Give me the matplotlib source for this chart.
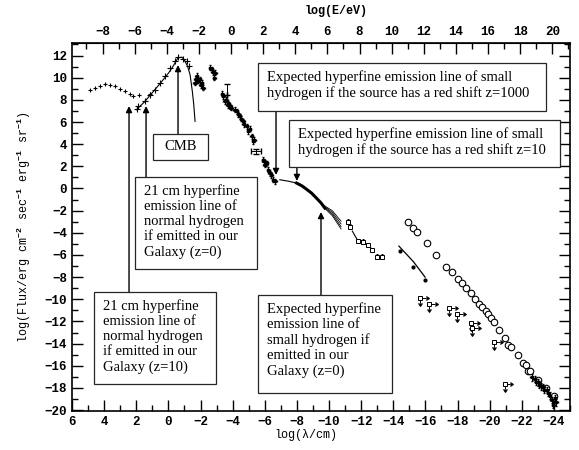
import numpy as np
import matplotlib.pyplot as plt
from matplotlib.patches import Rectangle
from matplotlib.transforms import Affine2D, blended_transform_factory
from matplotlib.ticker import MultipleLocator, FixedLocator

# ---- data (x = log(lambda/cm), y = log flux) ----
radio_lam = [4.88, 4.57, 4.26, 3.95, 3.64, 3.32, 3.01, 2.70, 2.39, 2.19, 1.85, 1.15]
radio_f = [8.86, 9.08, 9.29, 9.40, 9.38, 9.22, 8.99, 8.77, 8.54, 8.32, 8.47, 8.54]

cmb_lam = [1.97, 1.87, 1.46, 1.15, 0.84, 0.52, 0.21, -0.10, -0.41, -0.60, -0.93, -1.14, -1.28]
cmb_f = [7.18, 7.42, 7.87, 8.47, 8.93, 9.53, 10.13, 10.89, 11.49, 11.90, 11.67, 11.52, 11.07]

cmb_fit_lam = [2.0, 1.5, 1.0, 0.5, 0.0, -0.3, -0.6, -0.85, -1.04, -1.2, -1.35, -1.49, -1.58, -1.66]
cmb_fit_f = [7.1, 7.8, 8.65, 9.5, 10.4, 11.05, 11.8, 11.85, 11.48, 11.0, 10.27, 8.77, 7.56, 6.06]

ir_lam = [-1.65, -1.70, -1.76, -1.86, -1.96, -2.00, -2.07, -2.17, -2.60, -2.69, -2.75, -2.86, -2.90,
          -3.35, -3.42, -3.52, -3.60, -3.70, -3.73, -3.83, -3.90, -4.15, -4.25, -4.35, -4.45, -4.55,
          -4.66, -4.70, -4.87, -4.97, -5.05, -5.18, -5.28, -5.35, -5.90, -5.95, -6.02, -6.12, -6.22,
          -6.32, -6.40, -6.53, -6.63]
ir_f = [9.56, 9.90, 10.17, 9.71, 9.86, 9.30, 9.56, 9.10, 10.90, 10.76, 10.50, 10.00, 10.46,
        8.55, 8.32, 7.87, 8.00, 7.50, 7.72, 7.42, 7.30, 7.10, 6.96, 6.70, 6.51, 6.30,
        6.06, 5.80, 5.61, 5.16, 5.40, 4.70, 4.25, 4.40, 2.60, 2.45, 2.14, 2.30, 1.69,
        1.39, 1.20, 0.79, 0.64]

bar_lam = [-3.63, -5.45]
bar_f = [8.40, 3.35]

xray_thin_lam = [-6.94, -7.50, -7.98]
xray_thin_f = [0.79, 0.65, 0.49]
xray_lam = [-7.98, -8.30, -8.50, -8.90, -9.22, -9.50, -9.74]
xray_f = [0.49, 0.25, 0.04, -0.40, -0.87, -1.30, -1.77]

fan_lam = [-9.6, -10.2, -10.75]
fan_f = [[-1.45, -2.00, -2.95], [-1.50, -2.15, -3.20], [-1.55, -2.30, -3.45], [-1.60, -2.45, -3.65]]

hx_lam = [-11.20, -11.30, -11.80, -12.10, -12.40, -12.65, -12.96, -13.27]
hx_f = [-2.98, -3.43, -4.73, -4.79, -5.09, -5.54, -6.15, -6.15]
hx_line_lam = [-11.45, -11.75, -12.10, -12.40, -12.70]
hx_line_f = [-3.85, -4.60, -4.80, -5.10, -5.50]

gamma_lam = [-14.35, -15.25, -15.98]
gamma_f = [-5.20, -6.60, -8.00]
gamma_pt_lam = [-14.40, -15.21, -15.98]
gamma_pt_f = [-5.60, -7.11, -8.26]

circ_lam = [-14.93, -15.24, -15.49, -16.07, -16.65, -17.29, -17.65, -18.00, -18.25, -18.54,
            -18.81, -19.10, -19.35, -19.51, -19.80, -19.90, -20.09, -20.28, -20.57, -20.96,
            -21.11, -21.32, -21.77, -22.05, -22.25, -22.40, -22.50, -23.00, -23.50, -24.00]
circ_f = [-3.04, -3.58, -3.94, -4.94, -6.02, -7.11, -7.56, -8.16, -8.55, -9.00,
          -9.46, -9.94, -10.42, -10.67, -11.03, -11.33, -11.66, -12.02, -12.75, -13.53,
          -14.13, -14.28, -15.03, -15.73, -15.94, -16.50, -16.45, -17.30, -18.00, -18.70]

ul_lam = [-15.66, -16.24, -17.48, -17.98, -18.83, -18.93, -20.28, -20.94]
ul_f = [-9.90, -10.45, -10.81, -11.35, -12.11, -12.62, -13.83, -17.60]

uhe_lam = [-22.62, -22.80, -22.90, -23.03, -23.10, -23.20, -23.35, -23.40, -23.55, -23.65,
           -23.76, -23.86, -23.97, -24.07, -24.15]
uhe_f = [-17.04, -17.20, -17.45, -17.50, -17.70, -17.85, -17.90, -18.15, -18.20, -18.45,
         -18.70, -19.10, -19.50, -18.90, -19.30]

# annotation boxes: image-pixel box (left, top, right, bottom), text, arrow tip in data
boxes = [
    ((153, 134, 208, 160), "CMB", (-0.60, 11.14)),
    ((135, 177, 257, 269), "21 cm hyperfine\nemission line of\nnormal hydrogen\nif emitted in our\nGalaxy (z=0)", (1.39, 7.44)),
    ((94, 292, 216, 384), "21 cm hyperfine\nemission line of\nnormal hydrogen\nif emitted in our\nGalaxy (z=10)", (2.45, 7.44)),
    ((258, 63, 546, 111), "Expected hyperfine emission line of small\nhydrogen if the source has a red shift z=1000", (-6.70, 1.22)),
    ((289, 120, 560, 167), "Expected hyperfine emission line of small\nhydrogen if the source has a red shift z=10", (-8.00, 0.68)),
    ((258, 295, 392, 393), "Expected hyperfine\nemission line of\nsmall hydrogen if\nemitted in our\nGalaxy (z=0)", (-9.50, -2.12)),
]

W, H = 579, 450
plt.rcParams['font.family'] = 'Liberation Mono'
plt.rcParams['font.weight'] = 'bold'
plt.rcParams['mathtext.fontset'] = 'custom'
plt.rcParams['mathtext.rm'] = 'Liberation Mono:bold'
plt.rcParams['mathtext.it'] = 'Liberation Mono:bold'

fig = plt.figure(figsize=(W / 100, H / 100), dpi=100)
ax = fig.add_axes([72 / W, 1 - 411 / H, (570 - 72) / W, (411 - 43) / H])
ax.set_xlim(6, -25)
ax.set_ylim(-20.08, 13.13)
pix = Affine2D().scale(1 / W, -1 / H).translate(0, 1) + fig.transFigure
xdata_ypix = blended_transform_factory(ax.transData, pix)

k = "black"
ax.plot(radio_lam, radio_f, "+", color=k, ms=3.5, mew=0.8)
ax.plot(cmb_fit_lam, cmb_fit_f, "-", color=k, lw=0.8)
ax.plot(cmb_lam, cmb_f, "+", color=k, ms=4, mew=0.8)
ax.errorbar(ir_lam, ir_f, xerr=0.1, yerr=0.22, fmt="s", color=k, ms=1.8,
            elinewidth=0.7, capsize=0.8)
ax.errorbar(bar_lam, bar_f, xerr=[[0.0, 0.3], [0.0, 0.3]], yerr=[[0.0, 0.2], [1.0, 0.2]],
            fmt="none", ecolor=k, elinewidth=0.7, capsize=2)
ax.plot(xray_thin_lam, xray_thin_f, "-", color=k, lw=0.8)
ax.plot(xray_lam, xray_f, "-", color=k, lw=2.2)
for ff in fan_f:
    ax.plot(fan_lam, ff, "-", color=k, lw=0.6)
ax.plot(hx_line_lam, hx_line_f, "-", color=k, lw=0.8)
ax.errorbar(hx_lam, hx_f, yerr=0.2, fmt="s", color=k, mfc="white", ms=3,
            mew=0.7, elinewidth=0.7, capsize=1)
ax.plot(gamma_lam, gamma_f, "-", color=k, lw=0.9)
ax.plot(gamma_pt_lam, gamma_pt_f, "o", color=k, ms=2)
ax.plot(circ_lam, circ_f, "o", color=k, mfc="white", ms=4.7, mew=0.8)
ax.errorbar(ul_lam, ul_f, xerr=0.35, yerr=0.45, xuplims=True, uplims=True, fmt="s",
            color=k, mfc="white", ms=3, mew=0.7, elinewidth=0.7, capsize=1.5)
ax.errorbar(uhe_lam, uhe_f, yerr=0.3, xerr=0.08, fmt="s", color=k, ms=2.0,
            elinewidth=0.7, capsize=0.8)

for (l, t, r, b), txt, tip in boxes:
    fig.add_artist(Rectangle((l / W, 1 - b / H), (r - l) / W, (b - t) / H,
                             transform=fig.transFigure, fc="white", ec="0.15", lw=0.9, zorder=5))
    if txt == "CMB":
        fig.text((l + r) / 2 / W, 1 - (t + b) / 2 / H, txt, ha="center", va="center",
                 family="Liberation Serif", weight="normal", fontsize=10.5, zorder=6)
    else:
        fig.text((l + 9) / W, 1 - (t + 7) / H, txt, ha="left", va="top",
                 family="Liberation Serif", weight="normal", fontsize=10.5,
                 linespacing=1.22, zorder=6)
    tip_py = H - ax.transData.transform(tip)[1]
    tail_py = t if tip_py < t else b
    ax.annotate("", xy=tip, xycoords="data", xytext=(tip[0], tail_py),
                textcoords=xdata_ypix, zorder=6,
                arrowprops=dict(arrowstyle="-|>", color="black", lw=1.0, mutation_scale=9,
                                shrinkA=0, shrinkB=0))

ax.xaxis.set_major_locator(MultipleLocator(2))
ax.xaxis.set_minor_locator(MultipleLocator(1))
ax.yaxis.set_major_locator(MultipleLocator(2))
ax.yaxis.set_minor_locator(MultipleLocator(1))
ax.tick_params(which="both", direction="in", right=True, top=False, labelsize=9, width=1)
ax.tick_params(which="major", length=8)
ax.tick_params(which="minor", length=4)
for s in ax.spines.values():
    s.set_linewidth(1.2)

sec = ax.secondary_xaxis("top", functions=(lambda x: -3.9 - x, lambda x: -3.9 - x))
sec.xaxis.set_major_locator(FixedLocator(np.arange(-8, 21, 2)))
sec.xaxis.set_minor_locator(FixedLocator(np.arange(-9, 22, 1)))
sec.tick_params(which="both", direction="in", labelsize=9, width=1)
sec.tick_params(which="major", length=8)
sec.tick_params(which="minor", length=4)
fig.text(336 / W, 1 - 11 / H, "log(E/eV)", ha="center", va="center", fontsize=8.5)

ax.set_xlabel("log(\u03bb/cm)", fontsize=8.5)
ax.xaxis.set_label_coords((306 - 72) / 498, (411 - 429) / 368)
ax.set_ylabel("log(Flux/erg cm$^{-2}$ sec$^{-1}$ erg$^{-1}$ sr$^{-1}$)", fontsize=8.5)
ax.yaxis.set_label_coords((33 - 72) / 498, 0.5)

fig.savefig("out.png", dpi=100)
